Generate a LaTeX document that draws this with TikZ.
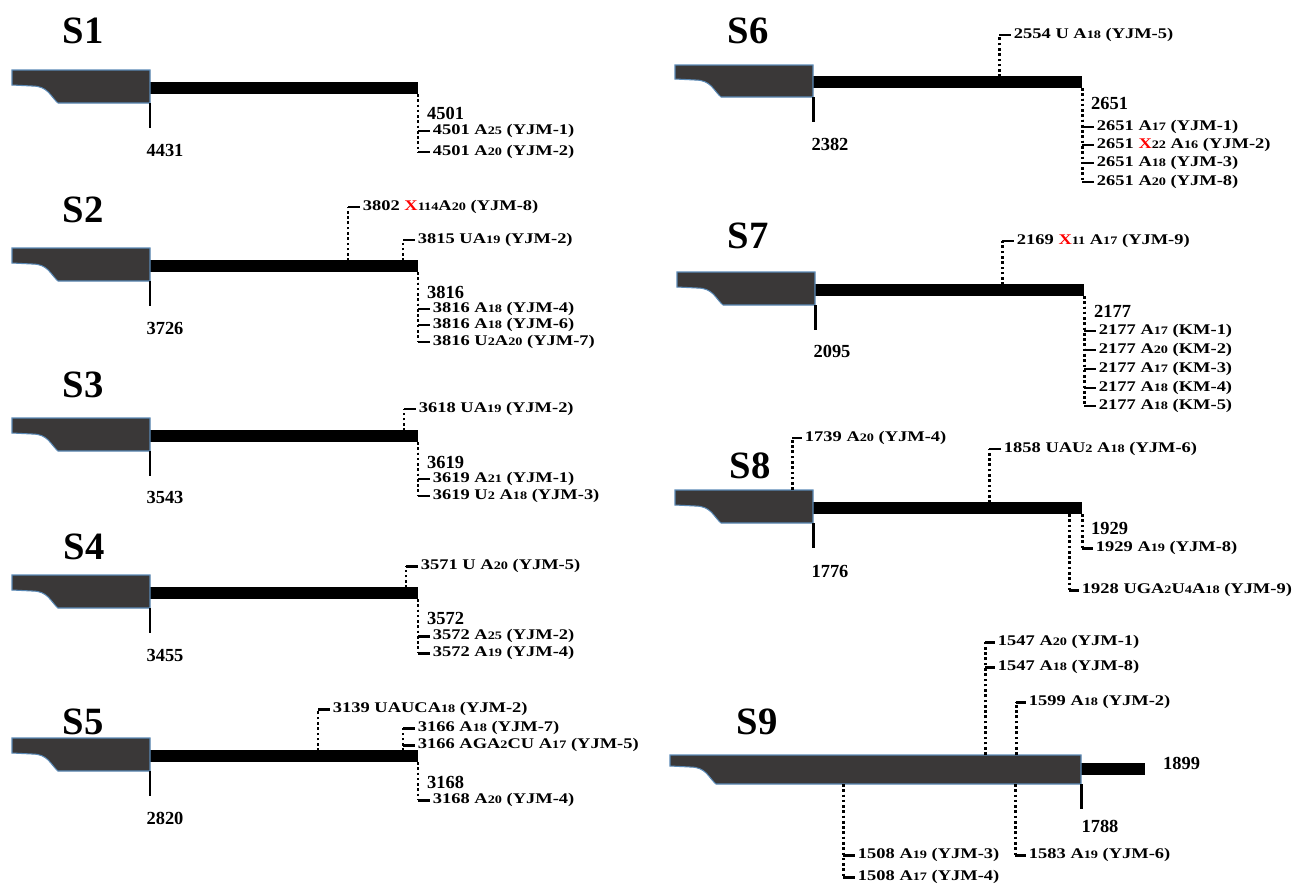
\documentclass[tikz,border=0pt]{standalone}
\usepackage{fontspec}
\setmainfont{Liberation Serif}
\newfontfamily\labfam[FakeStretch=1.25]{Liberation Serif}
\definecolor{stemgray}{HTML}{3A3838}
\definecolor{stemline}{HTML}{5A89B5}
\newcommand{\ssub}[1]{{\fontsize{6.5}{7}\selectfont #1}}
\newcommand{\redX}{\textcolor{red}{X}}
% dotted leader with a short solid hook into the label
\newcommand{\linkto}[2]{\draw[lead] (#1) -- (#1 |- #2.west); \draw[hook] (#1 |- #2.west) -- (#2.west);}

\begin{document}
\begin{tikzpicture}[x=0.02cm, y=-0.02cm,
	stem/.style={draw=stemline, fill=stemgray, line width=0.6pt},
	bar/.style={line width=0.23cm},
	tick/.style={line width=1.7pt},
	lead/.style={line width=1.7pt, dash pattern=on 1.5pt off 1.5pt},
	hook/.style={line width=1.7pt},
	ttl/.style={font=\bfseries\fontsize{22}{24}\selectfont},
	num/.style={font=\bfseries\fontsize{10.5}{12}\selectfont, inner sep=1pt},
	mut/.style={font=\labfam\bfseries\fontsize{8.4}{10}\selectfont, anchor=west, inner sep=1.5pt}]

	\useasboundingbox (0,0) rectangle (1299,886);

	% stems, tails and start ticks
	\foreach \xa/\xb/\xe/\yc/\yt in {12/150/418/88/70, 12/150/418/266/248, 12/150/418/436/418,
			12/150/418/593/575, 12/150/418/756/738, 675/813/1082/82/65, 677/815/1084/290/272,
			675/813/1082/508/490, 670/1081/1145/769/755}{
		\draw[bar] (\xb,\yc) -- (\xe,\yc);
		\filldraw[stem] (\xa,\yt) -- (\xb,\yt) -- (\xb,\yc+15) -- (\xa+46,\yc+15)
			.. controls (\xa+38,\yc+8) and (\xa+36,\yc-2) .. (\xa+20,\yc-2) -- (\xa,\yc-3) -- cycle;
		\draw[tick] (\xb,\yc+15) -- (\xb,\yc+40);
	}

	% S1
	\node[ttl] (t1) at (83,31) {S1};
	\node[num] (p1) at (165,150) {4431};
	\coordinate (d1) at (418,94);
	\node[num, anchor=west] (n1) at (425,113) {4501};
	\node[mut] (m1a) at (430,131) {4501 A\ssub{25} (YJM-1)};
	\node[mut] (m1b) at (430,152) {4501 A\ssub{20} (YJM-2)};
	\linkto{d1}{m1a} \linkto{d1}{m1b}

	% S2
	\node[ttl] (t2) at (83,210) {S2};
	\node[num] (p2) at (165,328) {3726};
	\coordinate (u2a) at (348,261);
	\coordinate (u2b) at (403,261);
	\coordinate (d2) at (418,272);
	\node[mut] (m2a) at (360,207) {3802 \redX\ssub{114}A\ssub{20} (YJM-8)};
	\node[mut] (m2b) at (415,240) {3815 UA\ssub{19} (YJM-2)};
	\node[num, anchor=west] (n2) at (425,292) {3816};
	\node[mut] (m2c) at (430,309) {3816 A\ssub{18} (YJM-4)};
	\node[mut] (m2d) at (430,325) {3816 A\ssub{18} (YJM-6)};
	\node[mut] (m2e) at (430,342) {3816 U\ssub{2}A\ssub{20} (YJM-7)};
	\linkto{u2a}{m2a} \linkto{u2b}{m2b}
	\linkto{d2}{m2c} \linkto{d2}{m2d} \linkto{d2}{m2e}

	% S3
	\node[ttl] (t3) at (83,385) {S3};
	\node[num] (p3) at (165,497) {3543};
	\coordinate (u3) at (404,431);
	\coordinate (d3) at (418,442);
	\node[mut] (m3a) at (416,409) {3618 UA\ssub{19} (YJM-2)};
	\node[num, anchor=west] (n3) at (425,462) {3619};
	\node[mut] (m3b) at (430,479) {3619 A\ssub{21} (YJM-1)};
	\node[mut] (m3c) at (430,496) {3619 U\ssub{2} A\ssub{18} (YJM-3)};
	\linkto{u3}{m3a} \linkto{d3}{m3b} \linkto{d3}{m3c}

	% S4
	\node[ttl] (t4) at (84,547) {S4};
	\node[num] (p4) at (165,655) {3455};
	\coordinate (u4) at (406,588);
	\coordinate (d4) at (418,599);
	\node[mut] (m4a) at (418,566) {3571 U A\ssub{20} (YJM-5)};
	\node[num, anchor=west] (n4) at (425,618) {3572};
	\node[mut] (m4b) at (430,636) {3572 A\ssub{25} (YJM-2)};
	\node[mut] (m4c) at (430,653) {3572 A\ssub{19} (YJM-4)};
	\linkto{u4}{m4a} \linkto{d4}{m4b} \linkto{d4}{m4c}

	% S5
	\node[ttl] (t5) at (83,722) {S5};
	\node[num] (p5) at (165,818) {2820};
	\coordinate (u5a) at (318,751);
	\coordinate (u5b) at (403,751);
	\coordinate (d5) at (418,762);
	\node[mut] (m5a) at (330,709) {3139 UAUCA\ssub{18} (YJM-2)};
	\node[mut] (m5b) at (415,728) {3166 A\ssub{18} (YJM-7)};
	\node[mut] (m5c) at (415,745) {3166 AGA\ssub{2}CU A\ssub{17} (YJM-5)};
	\node[num, anchor=west] (n5) at (425,782) {3168};
	\node[mut] (m5d) at (430,800) {3168 A\ssub{20} (YJM-4)};
	\linkto{u5a}{m5a} \linkto{u5b}{m5b} \linkto{u5b}{m5c} \linkto{d5}{m5d}

	% S6
	\node[ttl] (t6) at (748,31) {S6};
	\node[num] (p6) at (830,144) {2382};
	\coordinate (u6) at (999,77);
	\coordinate (d6) at (1082,88);
	\node[mut] (m6a) at (1011,35) {2554 U A\ssub{18} (YJM-5)};
	\node[num, anchor=west] (n6) at (1089,103) {2651};
	\node[mut] (m6b) at (1094,127) {2651 A\ssub{17} (YJM-1)};
	\node[mut] (m6c) at (1094,145) {2651 \redX\ssub{22} A\ssub{16} (YJM-2)};
	\node[mut] (m6d) at (1094,163) {2651 A\ssub{18} (YJM-3)};
	\node[mut] (m6e) at (1094,182) {2651 A\ssub{20} (YJM-8)};
	\linkto{u6}{m6a}
	\linkto{d6}{m6b} \linkto{d6}{m6c} \linkto{d6}{m6d} \linkto{d6}{m6e}

	% S7
	\node[ttl] (t7) at (748,236) {S7};
	\node[num] (p7) at (832,351) {2095};
	\coordinate (u7) at (1002,285);
	\coordinate (d7) at (1084,296);
	\node[mut] (m7a) at (1014,241) {2169 \redX\ssub{11} A\ssub{17} (YJM-9)};
	\node[num, anchor=west] (n7) at (1092,311) {2177};
	\node[mut] (m7b) at (1096,331) {2177 A\ssub{17} (KM-1)};
	\node[mut] (m7c) at (1096,350) {2177 A\ssub{20} (KM-2)};
	\node[mut] (m7d) at (1096,369) {2177 A\ssub{17} (KM-3)};
	\node[mut] (m7e) at (1096,388) {2177 A\ssub{18} (KM-4)};
	\node[mut] (m7f) at (1096,406) {2177 A\ssub{18} (KM-5)};
	\linkto{u7}{m7a}
	\linkto{d7}{m7b} \linkto{d7}{m7c} \linkto{d7}{m7d} \linkto{d7}{m7e} \linkto{d7}{m7f}

	% S8
	\node[ttl] (t8) at (750,466) {S8};
	\node[num] (p8) at (830,571) {1776};
	\coordinate (u8a) at (792,490);
	\coordinate (u8b) at (989,503);
	\coordinate (d8a) at (1082,514);
	\coordinate (d8b) at (1069,514);
	\node[mut] (m8a) at (802,438) {1739 A\ssub{20} (YJM-4)};
	\node[mut] (m8b) at (1001,449) {1858 UAU\ssub{2} A\ssub{18} (YJM-6)};
	\node[num, anchor=west] (n8) at (1089,528) {1929};
	\node[mut] (m8c) at (1093,548) {1929 A\ssub{19} (YJM-8)};
	\node[mut] (m8d) at (1079,590) {1928 UGA\ssub{2}U\ssub{4}A\ssub{18} (YJM-9)};
	\linkto{u8a}{m8a} \linkto{u8b}{m8b} \linkto{d8a}{m8c} \linkto{d8b}{m8d}

	% S9
	\node[ttl] (t9) at (757,722) {S9};
	\node[num] (p9) at (1100,826) {1788};
	\node[num, anchor=west] (n9) at (1161,763) {1899};
	\coordinate (u9a) at (985,755);
	\coordinate (u9b) at (1016,755);
	\coordinate (d9a) at (843,784);
	\coordinate (d9b) at (1015,784);
	\node[mut] (m9a) at (995,642) {1547 A\ssub{20} (YJM-1)};
	\node[mut] (m9b) at (995,667) {1547 A\ssub{18} (YJM-8)};
	\node[mut] (m9c) at (1026,702) {1599 A\ssub{18} (YJM-2)};
	\node[mut] (m9d) at (855,855) {1508 A\ssub{19} (YJM-3)};
	\node[mut] (m9e) at (855,877) {1508 A\ssub{17} (YJM-4)};
	\node[mut] (m9f) at (1026,855) {1583 A\ssub{19} (YJM-6)};
	\linkto{u9a}{m9a} \linkto{u9a}{m9b} \linkto{u9b}{m9c}
	\linkto{d9a}{m9d} \linkto{d9a}{m9e} \linkto{d9b}{m9f}
\end{tikzpicture}
\end{document}
